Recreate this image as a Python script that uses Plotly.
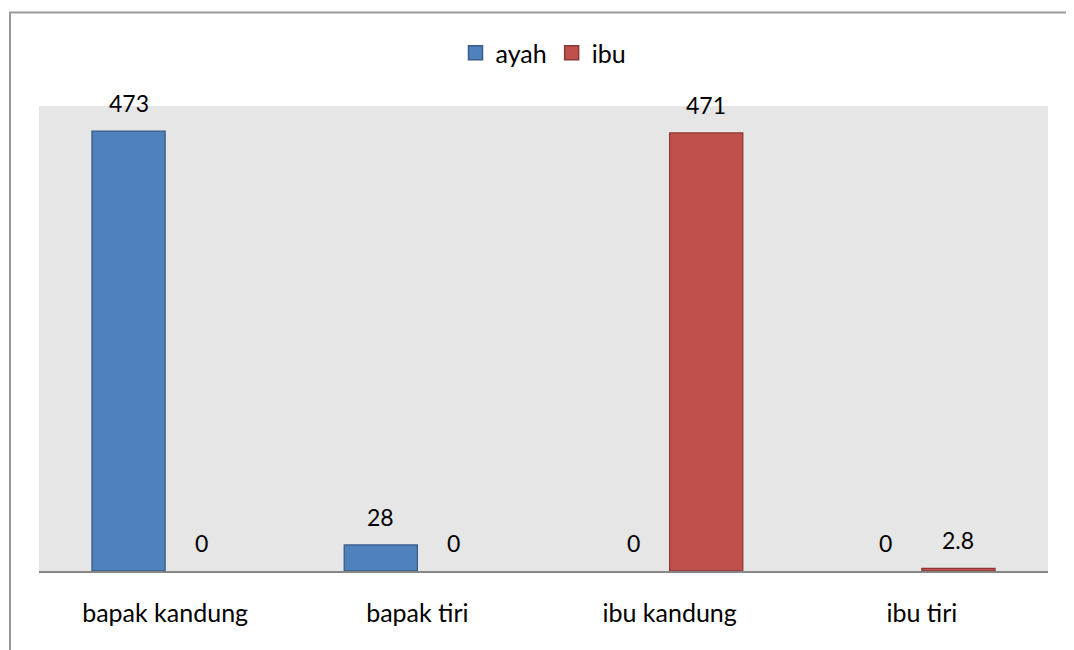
import plotly.graph_objects as go

categories = ["bapak kandung", "bapak tiri", "ibu kandung", "ibu tiri"]
ayah = [473, 28, 0, 0]
ibu = [0, 0, 471, 2.8]
ayah_labels = ["473", "28", "0", "0"]
ibu_labels = ["0", "0", "471", "2.8"]
series_names = ["ayah", "ibu"]
fill_colors = ["#4F81BD", "#C0504D"]
edge_colors = ["#385D8A", "#8C3836"]

FONT = "Lato, Carlito, Calibri, sans-serif"
OFF = 8  # default page body margin
W, H = 1074 - OFF, 650 - OFF
ML, MT = 39 - OFF, 106 - OFF
MR = W - (1048 - OFF)
MB = H - (571 - OFF)
PW, PH = W - ML - MR, H - MT - MB
BARGAP = 0.42


def px_x(px):
    return (px - OFF - ML) / PW


def px_y(py):
    return (H + OFF - MB - py) / PH


fig = go.Figure()
for name, vals, fc, ec in zip(series_names, (ayah, ibu), fill_colors, edge_colors):
    fig.add_trace(go.Bar(
        name=name, x=categories, y=vals, showlegend=False,
        marker=dict(color=fc,
                    line=dict(color=ec, width=[1.3 if v > 0 else 0 for v in vals])),
    ))
# legend entries with square keys like the original
for name, fc, ec in zip(series_names, fill_colors, edge_colors):
    fig.add_trace(go.Scatter(
        name=name, x=[None], y=[None], mode="markers",
        marker=dict(symbol="square", size=14, color=fc, line=dict(color=ec, width=1.5)),
    ))

# data labels, placed above each bar through the axis scales
half = (1 - BARGAP) / 4
for series, labels, sign in ((ayah, ayah_labels, -1), (ibu, ibu_labels, 1)):
    for i, (v, t) in enumerate(zip(series, labels)):
        fig.add_annotation(
            x=i + sign * half, y=v, text=t, showarrow=False,
            xref="x", yref="y", xanchor="center", yanchor="bottom",
            yshift=12, font=dict(family=FONT, size=23, color="#000000"),
        )

left, top, bottom, right = px_x(10), px_y(12.5), px_y(660), px_x(1090)
fig.add_shape(
    type="path", xref="paper", yref="paper",
    path=f"M {left} {bottom} L {left} {top} L {right} {top}",
    line=dict(color="#999999", width=2),
)

fig.update_layout(
    width=W, height=H,
    margin=dict(l=ML, r=MR, t=MT, b=MB, pad=0),
    paper_bgcolor="#FFFFFF",
    plot_bgcolor="#E6E6E6",
    barmode="group",
    bargap=BARGAP,
    bargroupgap=0,
    font=dict(family=FONT, size=25, color="#000000"),
    showlegend=True,
    legend=dict(
        orientation="h", x=0.5, xanchor="center",
        y=px_y(53), yanchor="middle",
        font=dict(family=FONT, size=25, color="#000000"),
        bgcolor="rgba(0,0,0,0)", itemwidth=30, itemsizing="trace",
    ),
    xaxis=dict(
        showline=True, linecolor="#868686", linewidth=2,
        ticks="outside", ticklen=19, tickcolor="rgba(0,0,0,0)",
        tickfont=dict(family=FONT, size=25, color="#000000"),
        showgrid=False, zeroline=False,
    ),
    yaxis=dict(
        range=[0, 500], visible=False, showgrid=False, zeroline=False,
    ),
)

fig.write_html("out.html")
